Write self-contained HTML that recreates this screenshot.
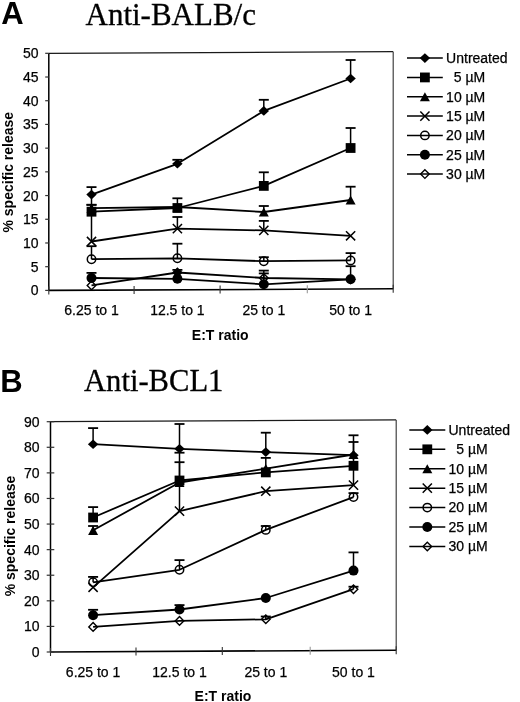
<!DOCTYPE html>
<html><head><meta charset="utf-8"><title>Figure</title>
<style>
html,body{margin:0;padding:0;background:#fff;}
body{width:520px;height:702px;overflow:hidden;font-family:"Liberation Sans",sans-serif;}
svg{display:block;filter:grayscale(100%) blur(0.35px);}
</style></head>
<body>
<svg width="520" height="702" viewBox="0 0 520 702" fill="#000">
<path d="M48.8 53.3L393.2 51.7" stroke="#1a1a1a" stroke-width="1.2" fill="none"/>
<path d="M393.2 51.7L393.2 288.8" stroke="#3a3a3a" stroke-width="1.15" fill="none"/>
<path d="M48.8 53.3V290.4" stroke="#000" stroke-width="1.5" fill="none"/>
<path d="M48.8 290.4L393.2 288.8" stroke="#000" stroke-width="1.6" fill="none"/>
<path d="M45.2 290.4H48.8" stroke="#333" stroke-width="1.2"/>
<text x="38.6" y="295.4" font-size="14" font-weight="normal" text-anchor="end" font-family="'Liberation Sans', sans-serif" stroke="#000" stroke-width="0.25" >0</text>
<path d="M45.2 266.69H48.8" stroke="#333" stroke-width="1.2"/>
<text x="38.6" y="271.69" font-size="14" font-weight="normal" text-anchor="end" font-family="'Liberation Sans', sans-serif" stroke="#000" stroke-width="0.25" >5</text>
<path d="M45.2 242.98H48.8" stroke="#333" stroke-width="1.2"/>
<text x="38.6" y="247.98" font-size="14" font-weight="normal" text-anchor="end" font-family="'Liberation Sans', sans-serif" stroke="#000" stroke-width="0.25" >10</text>
<path d="M45.2 219.27H48.8" stroke="#333" stroke-width="1.2"/>
<text x="38.6" y="224.27" font-size="14" font-weight="normal" text-anchor="end" font-family="'Liberation Sans', sans-serif" stroke="#000" stroke-width="0.25" >15</text>
<path d="M45.2 195.56H48.8" stroke="#333" stroke-width="1.2"/>
<text x="38.6" y="200.56" font-size="14" font-weight="normal" text-anchor="end" font-family="'Liberation Sans', sans-serif" stroke="#000" stroke-width="0.25" >20</text>
<path d="M45.2 171.85H48.8" stroke="#333" stroke-width="1.2"/>
<text x="38.6" y="176.85" font-size="14" font-weight="normal" text-anchor="end" font-family="'Liberation Sans', sans-serif" stroke="#000" stroke-width="0.25" >25</text>
<path d="M45.2 148.14H48.8" stroke="#333" stroke-width="1.2"/>
<text x="38.6" y="153.14" font-size="14" font-weight="normal" text-anchor="end" font-family="'Liberation Sans', sans-serif" stroke="#000" stroke-width="0.25" >30</text>
<path d="M45.2 124.43H48.8" stroke="#333" stroke-width="1.2"/>
<text x="38.6" y="129.43" font-size="14" font-weight="normal" text-anchor="end" font-family="'Liberation Sans', sans-serif" stroke="#000" stroke-width="0.25" >35</text>
<path d="M45.2 100.72H48.8" stroke="#333" stroke-width="1.2"/>
<text x="38.6" y="105.72" font-size="14" font-weight="normal" text-anchor="end" font-family="'Liberation Sans', sans-serif" stroke="#000" stroke-width="0.25" >40</text>
<path d="M45.2 77.01H48.8" stroke="#333" stroke-width="1.2"/>
<text x="38.6" y="82.01" font-size="14" font-weight="normal" text-anchor="end" font-family="'Liberation Sans', sans-serif" stroke="#000" stroke-width="0.25" >45</text>
<path d="M45.2 53.3H48.8" stroke="#333" stroke-width="1.2"/>
<text x="38.6" y="58.3" font-size="14" font-weight="normal" text-anchor="end" font-family="'Liberation Sans', sans-serif" stroke="#000" stroke-width="0.25" >50</text>
<path d="M48.8 286.4V294.4" stroke="#333" stroke-width="1.1"/>
<path d="M134.1 286V294" stroke="#333" stroke-width="1.1"/>
<path d="M220.1 285.6V293.6" stroke="#333" stroke-width="1.1"/>
<path d="M307.3 285.2V293.2" stroke="#999" stroke-width="1.1"/>
<path d="M393.2 284.8V292.8" stroke="#333" stroke-width="1.1"/>
<text x="91.5" y="315" font-size="14" font-weight="normal" text-anchor="middle" font-family="'Liberation Sans', sans-serif" stroke="#000" stroke-width="0.25" >6.25 to 1</text>
<text x="177.4" y="315" font-size="14" font-weight="normal" text-anchor="middle" font-family="'Liberation Sans', sans-serif" stroke="#000" stroke-width="0.25" >12.5 to 1</text>
<text x="263.8" y="315" font-size="14" font-weight="normal" text-anchor="middle" font-family="'Liberation Sans', sans-serif" stroke="#000" stroke-width="0.25" >25 to 1</text>
<text x="350.6" y="315" font-size="14" font-weight="normal" text-anchor="middle" font-family="'Liberation Sans', sans-serif" stroke="#000" stroke-width="0.25" >50 to 1</text>
<text x="220.2" y="339.5" font-size="14" font-weight="bold" text-anchor="middle" font-family="'Liberation Sans', sans-serif" >E:T ratio</text>
<text x="0" y="0" font-size="14" font-weight="bold" text-anchor="middle" font-family="'Liberation Sans', sans-serif" transform="translate(13.4 172.2) rotate(-90)">% specific release</text>
<text x="1.2" y="23.9" font-size="31" font-weight="bold" text-anchor="start" font-family="'Liberation Sans', sans-serif" >A</text>
<text x="85.5" y="24.5" font-size="31" font-weight="normal" text-anchor="start" font-family="'Liberation Serif', serif" stroke="#000" stroke-width="0.3" >Anti-BALB/c</text>
<path d="M91.5 204.8V187.1" stroke="#000" stroke-width="1.5"/><path d="M86.5 187.1H96.5" stroke="#000" stroke-width="1.8"/>
<path d="M91.5 211.7V204.8" stroke="#000" stroke-width="1.5"/><path d="M86.5 204.8H96.5" stroke="#000" stroke-width="1.8"/>
<path d="M91.5 241.5V204.8" stroke="#000" stroke-width="1.5"/><path d="M86.5 204.8H96.5" stroke="#000" stroke-width="1.8"/>
<path d="M91.5 259.2V246.2" stroke="#000" stroke-width="1.5"/><path d="M86.5 246.2H96.5" stroke="#000" stroke-width="1.8"/>
<path d="M91.5 278V272.9" stroke="#000" stroke-width="1.5"/><path d="M86.5 272.9H96.5" stroke="#000" stroke-width="1.8"/>
<path d="M177.4 163.8V159.8" stroke="#000" stroke-width="1.5"/><path d="M172.4 159.8H182.4" stroke="#000" stroke-width="1.8"/>
<path d="M177.4 208V198.3" stroke="#000" stroke-width="1.5"/><path d="M172.4 198.3H182.4" stroke="#000" stroke-width="1.8"/>
<path d="M177.4 228.6V217" stroke="#000" stroke-width="1.5"/><path d="M172.4 217H182.4" stroke="#000" stroke-width="1.8"/>
<path d="M177.4 258.3V243.7" stroke="#000" stroke-width="1.5"/><path d="M172.4 243.7H182.4" stroke="#000" stroke-width="1.8"/>
<path d="M177.4 278.8V269.9" stroke="#000" stroke-width="1.5"/><path d="M172.4 269.9H182.4" stroke="#000" stroke-width="1.8"/>
<path d="M263.8 110.9V99.8" stroke="#000" stroke-width="1.5"/><path d="M258.8 99.8H268.8" stroke="#000" stroke-width="1.8"/>
<path d="M263.8 185.9V172.3" stroke="#000" stroke-width="1.5"/><path d="M258.8 172.3H268.8" stroke="#000" stroke-width="1.8"/>
<path d="M263.8 212V206" stroke="#000" stroke-width="1.5"/><path d="M258.8 206H268.8" stroke="#000" stroke-width="1.8"/>
<path d="M263.8 230.4V220.9" stroke="#000" stroke-width="1.5"/><path d="M258.8 220.9H268.8" stroke="#000" stroke-width="1.8"/>
<path d="M263.8 261.2V257.2" stroke="#000" stroke-width="1.5"/><path d="M258.8 257.2H268.8" stroke="#000" stroke-width="1.8"/>
<path d="M263.8 284V270.6" stroke="#000" stroke-width="1.5"/><path d="M258.8 270.6H268.8" stroke="#000" stroke-width="1.8"/>
<path d="M263.8 278V273.4" stroke="#000" stroke-width="1.5"/><path d="M258.8 273.4H268.8" stroke="#000" stroke-width="1.8"/>
<path d="M350.6 78.5V60" stroke="#000" stroke-width="1.5"/><path d="M345.6 60H355.6" stroke="#000" stroke-width="1.8"/>
<path d="M350.6 148V128" stroke="#000" stroke-width="1.5"/><path d="M345.6 128H355.6" stroke="#000" stroke-width="1.8"/>
<path d="M350.6 200V186.7" stroke="#000" stroke-width="1.5"/><path d="M345.6 186.7H355.6" stroke="#000" stroke-width="1.8"/>
<path d="M350.6 260.4V253.1" stroke="#000" stroke-width="1.5"/><path d="M345.6 253.1H355.6" stroke="#000" stroke-width="1.8"/>
<path d="M350.6 279.3V266.2" stroke="#000" stroke-width="1.5"/><path d="M345.6 266.2H355.6" stroke="#000" stroke-width="1.8"/>
<path d="M91.5 194.6L177.4 163.8L263.8 110.9L350.6 78.5" stroke="#000" stroke-width="1.8" fill="none" stroke-linejoin="round"/>
<path d="M91.5 211.7L177.4 208L263.8 185.9L350.6 148" stroke="#000" stroke-width="1.8" fill="none" stroke-linejoin="round"/>
<path d="M91.5 208.2L177.4 207L263.8 212L350.6 200" stroke="#000" stroke-width="1.8" fill="none" stroke-linejoin="round"/>
<path d="M91.5 241.5L177.4 228.6L263.8 230.4L350.6 235.8" stroke="#000" stroke-width="1.8" fill="none" stroke-linejoin="round"/>
<path d="M91.5 259.2L177.4 258.3L263.8 261.2L350.6 260.4" stroke="#000" stroke-width="1.8" fill="none" stroke-linejoin="round"/>
<path d="M91.5 278L177.4 278.8L263.8 284.3L350.6 279.3" stroke="#000" stroke-width="1.8" fill="none" stroke-linejoin="round"/>
<path d="M91.5 285.4L177.4 272.5L263.8 278L350.6 279.3" stroke="#000" stroke-width="1.8" fill="none" stroke-linejoin="round"/>
<path d="M91.5 189.8L96.7 194.6L91.5 199.4L86.3 194.6Z" fill="#000"/>
<path d="M177.4 159L182.6 163.8L177.4 168.6L172.2 163.8Z" fill="#000"/>
<path d="M263.8 106.1L269 110.9L263.8 115.7L258.6 110.9Z" fill="#000"/>
<path d="M350.6 73.7L355.8 78.5L350.6 83.3L345.4 78.5Z" fill="#000"/>
<rect x="86.6" y="206.8" width="9.8" height="9.8" fill="#000"/>
<rect x="172.5" y="203.1" width="9.8" height="9.8" fill="#000"/>
<rect x="258.9" y="181" width="9.8" height="9.8" fill="#000"/>
<rect x="345.7" y="143.1" width="9.8" height="9.8" fill="#000"/>
<path d="M91.5 203.6L96.5 212.8L86.5 212.8Z" fill="#000"/>
<path d="M177.4 202.4L182.4 211.6L172.4 211.6Z" fill="#000"/>
<path d="M263.8 207.4L268.8 216.6L258.8 216.6Z" fill="#000"/>
<path d="M350.6 195.4L355.6 204.6L345.6 204.6Z" fill="#000"/>
<path d="M86.9 236.9L96.1 246.1M96.1 236.9L86.9 246.1" stroke="#000" stroke-width="1.5" fill="none"/>
<path d="M172.8 224L182 233.2M182 224L172.8 233.2" stroke="#000" stroke-width="1.5" fill="none"/>
<path d="M259.2 225.8L268.4 235M268.4 225.8L259.2 235" stroke="#000" stroke-width="1.5" fill="none"/>
<path d="M346 231.2L355.2 240.4M355.2 231.2L346 240.4" stroke="#000" stroke-width="1.5" fill="none"/>
<circle cx="91.5" cy="259.2" r="4.2" stroke="#000" stroke-width="1.5" fill="none"/>
<circle cx="177.4" cy="258.3" r="4.2" stroke="#000" stroke-width="1.5" fill="none"/>
<circle cx="263.8" cy="261.2" r="4.2" stroke="#000" stroke-width="1.5" fill="none"/>
<circle cx="350.6" cy="260.4" r="4.2" stroke="#000" stroke-width="1.5" fill="none"/>
<circle cx="91.5" cy="278" r="5" fill="#000"/>
<circle cx="177.4" cy="278.8" r="5" fill="#000"/>
<circle cx="263.8" cy="284.3" r="5" fill="#000"/>
<circle cx="350.6" cy="279.3" r="5" fill="#000"/>
<path d="M91.5 281.1L95.8 285.4L91.5 289.7L87.2 285.4Z" stroke="#000" stroke-width="1.4" fill="none"/>
<path d="M177.4 268.2L181.7 272.5L177.4 276.8L173.1 272.5Z" stroke="#000" stroke-width="1.4" fill="none"/>
<path d="M263.8 273.7L268.1 278L263.8 282.3L259.5 278Z" stroke="#000" stroke-width="1.4" fill="none"/>
<path d="M350.6 275L354.9 279.3L350.6 283.6L346.3 279.3Z" stroke="#000" stroke-width="1.4" fill="none"/>
<path d="M177.4 268.08L182.18 272.5L177.4 276.92L172.62 272.5Z" fill="#000"/>
<path d="M407 58.1H442.8" stroke="#000" stroke-width="1.5"/>
<path d="M424.9 53.3L430.1 58.1L424.9 62.9L419.7 58.1Z" fill="#000"/>
<text x="446.1" y="62.9" font-size="14" font-weight="normal" text-anchor="start" font-family="'Liberation Sans', sans-serif" stroke="#000" stroke-width="0.25" >Untreated</text>
<path d="M407 77.43H442.8" stroke="#000" stroke-width="1.5"/>
<rect x="420" y="72.53" width="9.8" height="9.8" fill="#000"/>
<text x="446.1" y="82.23" font-size="14" font-weight="normal" text-anchor="start" font-family="'Liberation Sans', sans-serif" stroke="#000" stroke-width="0.25" >&#160;&#160;5 µM</text>
<path d="M407 96.76H442.8" stroke="#000" stroke-width="1.5"/>
<path d="M424.9 92.16L429.9 101.36L419.9 101.36Z" fill="#000"/>
<text x="446.1" y="101.56" font-size="14" font-weight="normal" text-anchor="start" font-family="'Liberation Sans', sans-serif" stroke="#000" stroke-width="0.25" >10 µM</text>
<path d="M407 116.09H442.8" stroke="#000" stroke-width="1.5"/>
<path d="M420.3 111.49L429.5 120.69M429.5 111.49L420.3 120.69" stroke="#000" stroke-width="1.5" fill="none"/>
<text x="446.1" y="120.89" font-size="14" font-weight="normal" text-anchor="start" font-family="'Liberation Sans', sans-serif" stroke="#000" stroke-width="0.25" >15 µM</text>
<path d="M407 135.42H442.8" stroke="#000" stroke-width="1.5"/>
<circle cx="424.9" cy="135.42" r="4.2" stroke="#000" stroke-width="1.5" fill="none"/>
<text x="446.1" y="140.22" font-size="14" font-weight="normal" text-anchor="start" font-family="'Liberation Sans', sans-serif" stroke="#000" stroke-width="0.25" >20 µM</text>
<path d="M407 154.75H442.8" stroke="#000" stroke-width="1.5"/>
<circle cx="424.9" cy="154.75" r="5" fill="#000"/>
<text x="446.1" y="159.55" font-size="14" font-weight="normal" text-anchor="start" font-family="'Liberation Sans', sans-serif" stroke="#000" stroke-width="0.25" >25 µM</text>
<path d="M407 174.08H442.8" stroke="#000" stroke-width="1.5"/>
<path d="M424.9 169.78L429.2 174.08L424.9 178.38L420.6 174.08Z" stroke="#000" stroke-width="1.4" fill="none"/>
<text x="446.1" y="178.88" font-size="14" font-weight="normal" text-anchor="start" font-family="'Liberation Sans', sans-serif" stroke="#000" stroke-width="0.25" >30 µM</text>
<path d="M50.5 421.7L396.2 419.9" stroke="#1a1a1a" stroke-width="1.2" fill="none"/>
<path d="M396.2 419.9L396.2 650.2" stroke="#3a3a3a" stroke-width="1.15" fill="none"/>
<path d="M50.5 421.7V652" stroke="#000" stroke-width="1.5" fill="none"/>
<path d="M50.5 652L396.2 650.2" stroke="#000" stroke-width="1.6" fill="none"/>
<path d="M46.7 652H54.3" stroke="#333" stroke-width="1.2"/>
<text x="39.6" y="657" font-size="14" font-weight="normal" text-anchor="end" font-family="'Liberation Sans', sans-serif" stroke="#000" stroke-width="0.25" >0</text>
<path d="M46.7 626.41H54.3" stroke="#333" stroke-width="1.2"/>
<text x="39.6" y="631.41" font-size="14" font-weight="normal" text-anchor="end" font-family="'Liberation Sans', sans-serif" stroke="#000" stroke-width="0.25" >10</text>
<path d="M46.7 600.82H54.3" stroke="#333" stroke-width="1.2"/>
<text x="39.6" y="605.82" font-size="14" font-weight="normal" text-anchor="end" font-family="'Liberation Sans', sans-serif" stroke="#000" stroke-width="0.25" >20</text>
<path d="M46.7 575.23H54.3" stroke="#333" stroke-width="1.2"/>
<text x="39.6" y="580.23" font-size="14" font-weight="normal" text-anchor="end" font-family="'Liberation Sans', sans-serif" stroke="#000" stroke-width="0.25" >30</text>
<path d="M46.7 549.64H54.3" stroke="#333" stroke-width="1.2"/>
<text x="39.6" y="554.64" font-size="14" font-weight="normal" text-anchor="end" font-family="'Liberation Sans', sans-serif" stroke="#000" stroke-width="0.25" >40</text>
<path d="M46.7 524.06H54.3" stroke="#333" stroke-width="1.2"/>
<text x="39.6" y="529.06" font-size="14" font-weight="normal" text-anchor="end" font-family="'Liberation Sans', sans-serif" stroke="#000" stroke-width="0.25" >50</text>
<path d="M46.7 498.47H54.3" stroke="#333" stroke-width="1.2"/>
<text x="39.6" y="503.47" font-size="14" font-weight="normal" text-anchor="end" font-family="'Liberation Sans', sans-serif" stroke="#000" stroke-width="0.25" >60</text>
<path d="M46.7 472.88H54.3" stroke="#333" stroke-width="1.2"/>
<text x="39.6" y="477.88" font-size="14" font-weight="normal" text-anchor="end" font-family="'Liberation Sans', sans-serif" stroke="#000" stroke-width="0.25" >70</text>
<path d="M46.7 447.29H54.3" stroke="#333" stroke-width="1.2"/>
<text x="39.6" y="452.29" font-size="14" font-weight="normal" text-anchor="end" font-family="'Liberation Sans', sans-serif" stroke="#000" stroke-width="0.25" >80</text>
<path d="M46.7 421.7H54.3" stroke="#333" stroke-width="1.2"/>
<text x="39.6" y="426.7" font-size="14" font-weight="normal" text-anchor="end" font-family="'Liberation Sans', sans-serif" stroke="#000" stroke-width="0.25" >90</text>
<path d="M50.5 648V656" stroke="#333" stroke-width="1.1"/>
<path d="M136 647.55V655.55" stroke="#333" stroke-width="1.1"/>
<path d="M222.3 647.11V655.11" stroke="#333" stroke-width="1.1"/>
<path d="M310.2 646.65V654.65" stroke="#999" stroke-width="1.1"/>
<path d="M396.2 646.2V654.2" stroke="#333" stroke-width="1.1"/>
<text x="93.1" y="676.5" font-size="14" font-weight="normal" text-anchor="middle" font-family="'Liberation Sans', sans-serif" stroke="#000" stroke-width="0.25" >6.25 to 1</text>
<text x="179.5" y="676.5" font-size="14" font-weight="normal" text-anchor="middle" font-family="'Liberation Sans', sans-serif" stroke="#000" stroke-width="0.25" >12.5 to 1</text>
<text x="265.8" y="676.5" font-size="14" font-weight="normal" text-anchor="middle" font-family="'Liberation Sans', sans-serif" stroke="#000" stroke-width="0.25" >25 to 1</text>
<text x="353.5" y="676.5" font-size="14" font-weight="normal" text-anchor="middle" font-family="'Liberation Sans', sans-serif" stroke="#000" stroke-width="0.25" >50 to 1</text>
<text x="223" y="701" font-size="14" font-weight="bold" text-anchor="middle" font-family="'Liberation Sans', sans-serif" >E:T ratio</text>
<text x="0" y="0" font-size="14" font-weight="bold" text-anchor="middle" font-family="'Liberation Sans', sans-serif" transform="translate(14.6 536) rotate(-90)">% specific release</text>
<text x="0.2" y="392.3" font-size="31" font-weight="bold" text-anchor="start" font-family="'Liberation Sans', sans-serif" >B</text>
<text x="84" y="391.3" font-size="30.6" font-weight="normal" text-anchor="start" font-family="'Liberation Serif', serif" stroke="#000" stroke-width="0.3" >Anti-BCL1</text>
<path d="M93.1 444.2V428.1" stroke="#000" stroke-width="1.5"/><path d="M88.1 428.1H98.1" stroke="#000" stroke-width="1.8"/>
<path d="M93.1 517.5V507.1" stroke="#000" stroke-width="1.5"/><path d="M88.1 507.1H98.1" stroke="#000" stroke-width="1.8"/>
<path d="M93.1 530.3V526" stroke="#000" stroke-width="1.5"/><path d="M88.1 526H98.1" stroke="#000" stroke-width="1.8"/>
<path d="M93.1 582.3V576.9" stroke="#000" stroke-width="1.5"/><path d="M88.1 576.9H98.1" stroke="#000" stroke-width="1.8"/>
<path d="M93.1 615.2V609.8" stroke="#000" stroke-width="1.5"/><path d="M88.1 609.8H98.1" stroke="#000" stroke-width="1.8"/>
<path d="M179.5 448.8V424" stroke="#000" stroke-width="1.5"/><path d="M174.5 424H184.5" stroke="#000" stroke-width="1.8"/>
<path d="M179.5 480.5V462.2" stroke="#000" stroke-width="1.5"/><path d="M174.5 462.2H184.5" stroke="#000" stroke-width="1.8"/>
<path d="M179.5 511.1V452.7" stroke="#000" stroke-width="1.5"/><path d="M174.5 452.7H184.5" stroke="#000" stroke-width="1.8"/>
<path d="M179.5 569.8V560.1" stroke="#000" stroke-width="1.5"/><path d="M174.5 560.1H184.5" stroke="#000" stroke-width="1.8"/>
<path d="M179.5 609.5V605.1" stroke="#000" stroke-width="1.5"/><path d="M174.5 605.1H184.5" stroke="#000" stroke-width="1.8"/>
<path d="M265.8 452.1V432.7" stroke="#000" stroke-width="1.5"/><path d="M260.8 432.7H270.8" stroke="#000" stroke-width="1.8"/>
<path d="M265.8 472.4V457.9" stroke="#000" stroke-width="1.5"/><path d="M260.8 457.9H270.8" stroke="#000" stroke-width="1.8"/>
<path d="M265.8 529.9V526" stroke="#000" stroke-width="1.5"/><path d="M260.8 526H270.8" stroke="#000" stroke-width="1.8"/>
<path d="M265.8 619.3V616.5" stroke="#000" stroke-width="1.5"/><path d="M260.8 616.5H270.8" stroke="#000" stroke-width="1.8"/>
<path d="M353.5 455.2V435.3" stroke="#000" stroke-width="1.5"/><path d="M348.5 435.3H358.5" stroke="#000" stroke-width="1.8"/>
<path d="M353.5 465.8V442" stroke="#000" stroke-width="1.5"/><path d="M348.5 442H358.5" stroke="#000" stroke-width="1.8"/>
<path d="M353.5 485.1V465.8" stroke="#000" stroke-width="1.5"/>
<path d="M353.5 497.1V493.1" stroke="#000" stroke-width="1.5"/><path d="M348.5 493.1H358.5" stroke="#000" stroke-width="1.8"/>
<path d="M353.5 570.6V552.4" stroke="#000" stroke-width="1.5"/><path d="M348.5 552.4H358.5" stroke="#000" stroke-width="1.8"/>
<path d="M353.5 589.2V586.7" stroke="#000" stroke-width="1.5"/><path d="M348.5 586.7H358.5" stroke="#000" stroke-width="1.8"/>
<path d="M93.1 444.2L179.5 448.8L265.8 452.1L353.5 455.2" stroke="#000" stroke-width="1.8" fill="none" stroke-linejoin="round"/>
<path d="M93.1 517.5L179.5 480.5L265.8 472.4L353.5 465.8" stroke="#000" stroke-width="1.8" fill="none" stroke-linejoin="round"/>
<path d="M93.1 530.3L179.5 482.5L265.8 468.7L353.5 454.5" stroke="#000" stroke-width="1.8" fill="none" stroke-linejoin="round"/>
<path d="M93.1 587.3L179.5 511.1L265.8 491.2L353.5 485.1" stroke="#000" stroke-width="1.8" fill="none" stroke-linejoin="round"/>
<path d="M93.1 582.3L179.5 569.8L265.8 529.9L353.5 497.1" stroke="#000" stroke-width="1.8" fill="none" stroke-linejoin="round"/>
<path d="M93.1 615.2L179.5 609.5L265.8 598L353.5 570.6" stroke="#000" stroke-width="1.8" fill="none" stroke-linejoin="round"/>
<path d="M93.1 626.9L179.5 620.9L265.8 619.3L353.5 589.2" stroke="#000" stroke-width="1.8" fill="none" stroke-linejoin="round"/>
<path d="M93.1 439.4L98.3 444.2L93.1 449L87.9 444.2Z" fill="#000"/>
<path d="M179.5 444L184.7 448.8L179.5 453.6L174.3 448.8Z" fill="#000"/>
<path d="M265.8 447.3L271 452.1L265.8 456.9L260.6 452.1Z" fill="#000"/>
<path d="M353.5 450.4L358.7 455.2L353.5 460L348.3 455.2Z" fill="#000"/>
<rect x="88.2" y="512.6" width="9.8" height="9.8" fill="#000"/>
<rect x="174.6" y="475.6" width="9.8" height="9.8" fill="#000"/>
<rect x="260.9" y="467.5" width="9.8" height="9.8" fill="#000"/>
<rect x="348.6" y="460.9" width="9.8" height="9.8" fill="#000"/>
<path d="M93.1 525.7L98.1 534.9L88.1 534.9Z" fill="#000"/>
<path d="M179.5 477.9L184.5 487.1L174.5 487.1Z" fill="#000"/>
<path d="M265.8 464.1L270.8 473.3L260.8 473.3Z" fill="#000"/>
<path d="M353.5 449.9L358.5 459.1L348.5 459.1Z" fill="#000"/>
<path d="M88.5 582.7L97.7 591.9M97.7 582.7L88.5 591.9" stroke="#000" stroke-width="1.5" fill="none"/>
<path d="M174.9 506.5L184.1 515.7M184.1 506.5L174.9 515.7" stroke="#000" stroke-width="1.5" fill="none"/>
<path d="M261.2 486.6L270.4 495.8M270.4 486.6L261.2 495.8" stroke="#000" stroke-width="1.5" fill="none"/>
<path d="M348.9 480.5L358.1 489.7M358.1 480.5L348.9 489.7" stroke="#000" stroke-width="1.5" fill="none"/>
<circle cx="93.1" cy="582.3" r="4.2" stroke="#000" stroke-width="1.5" fill="none"/>
<circle cx="179.5" cy="569.8" r="4.2" stroke="#000" stroke-width="1.5" fill="none"/>
<circle cx="265.8" cy="529.9" r="4.2" stroke="#000" stroke-width="1.5" fill="none"/>
<circle cx="353.5" cy="497.1" r="4.2" stroke="#000" stroke-width="1.5" fill="none"/>
<circle cx="93.1" cy="615.2" r="5" fill="#000"/>
<circle cx="179.5" cy="609.5" r="5" fill="#000"/>
<circle cx="265.8" cy="598" r="5" fill="#000"/>
<circle cx="353.5" cy="570.6" r="5" fill="#000"/>
<path d="M93.1 622.6L97.4 626.9L93.1 631.2L88.8 626.9Z" stroke="#000" stroke-width="1.4" fill="none"/>
<path d="M179.5 616.6L183.8 620.9L179.5 625.2L175.2 620.9Z" stroke="#000" stroke-width="1.4" fill="none"/>
<path d="M265.8 615L270.1 619.3L265.8 623.6L261.5 619.3Z" stroke="#000" stroke-width="1.4" fill="none"/>
<path d="M353.5 584.9L357.8 589.2L353.5 593.5L349.2 589.2Z" stroke="#000" stroke-width="1.4" fill="none"/>
<path d="M409.3 429.9H445.3" stroke="#000" stroke-width="1.5"/>
<path d="M427.3 425.1L432.5 429.9L427.3 434.7L422.1 429.9Z" fill="#000"/>
<text x="448.5" y="434.7" font-size="14" font-weight="normal" text-anchor="start" font-family="'Liberation Sans', sans-serif" stroke="#000" stroke-width="0.25" >Untreated</text>
<path d="M409.3 449.33H445.3" stroke="#000" stroke-width="1.5"/>
<rect x="422.4" y="444.43" width="9.8" height="9.8" fill="#000"/>
<text x="448.5" y="454.13" font-size="14" font-weight="normal" text-anchor="start" font-family="'Liberation Sans', sans-serif" stroke="#000" stroke-width="0.25" >&#160;&#160;5 µM</text>
<path d="M409.3 468.76H445.3" stroke="#000" stroke-width="1.5"/>
<path d="M427.3 464.16L432.3 473.36L422.3 473.36Z" fill="#000"/>
<text x="448.5" y="473.56" font-size="14" font-weight="normal" text-anchor="start" font-family="'Liberation Sans', sans-serif" stroke="#000" stroke-width="0.25" >10 µM</text>
<path d="M409.3 488.19H445.3" stroke="#000" stroke-width="1.5"/>
<path d="M422.7 483.59L431.9 492.79M431.9 483.59L422.7 492.79" stroke="#000" stroke-width="1.5" fill="none"/>
<text x="448.5" y="492.99" font-size="14" font-weight="normal" text-anchor="start" font-family="'Liberation Sans', sans-serif" stroke="#000" stroke-width="0.25" >15 µM</text>
<path d="M409.3 507.62H445.3" stroke="#000" stroke-width="1.5"/>
<circle cx="427.3" cy="507.62" r="4.2" stroke="#000" stroke-width="1.5" fill="none"/>
<text x="448.5" y="512.42" font-size="14" font-weight="normal" text-anchor="start" font-family="'Liberation Sans', sans-serif" stroke="#000" stroke-width="0.25" >20 µM</text>
<path d="M409.3 527.05H445.3" stroke="#000" stroke-width="1.5"/>
<circle cx="427.3" cy="527.05" r="5" fill="#000"/>
<text x="448.5" y="531.85" font-size="14" font-weight="normal" text-anchor="start" font-family="'Liberation Sans', sans-serif" stroke="#000" stroke-width="0.25" >25 µM</text>
<path d="M409.3 546.48H445.3" stroke="#000" stroke-width="1.5"/>
<path d="M427.3 542.18L431.6 546.48L427.3 550.78L423 546.48Z" stroke="#000" stroke-width="1.4" fill="none"/>
<text x="448.5" y="551.28" font-size="14" font-weight="normal" text-anchor="start" font-family="'Liberation Sans', sans-serif" stroke="#000" stroke-width="0.25" >30 µM</text>
</svg>
</body></html>
